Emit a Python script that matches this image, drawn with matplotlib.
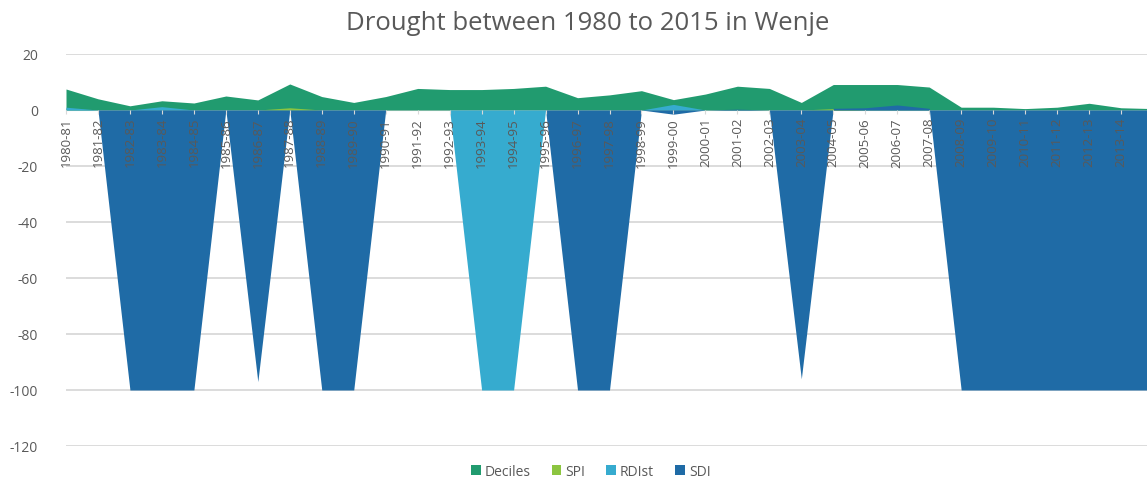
import matplotlib
matplotlib.use("Agg")
import matplotlib.pyplot as plt
import numpy as np

# seasons 1980-81 ... 2014-15
seasons = ["%d-%02d" % (y, (y + 1) % 100) for y in range(1980, 2015)]

deciles = [7.5, 4.0, 1.5, 3.3, 2.5, 5.0, 3.6, 9.3, 4.8, 2.7,
           4.8, 7.7, 7.3, 7.3, 7.7, 8.5, 4.4, 5.4, 6.9, 3.7,
           5.7, 8.5, 7.7, 2.7, 9.1, 9.1, 9.1, 8.2, 1.0, 1.0,
           0.5, 1.0, 2.4, 0.8, 0.5]
spi = [0, 0, 0, 0, 0, 0, 0, 0.8, 0, 0,
       0, 0, 0, 0, 0, 0, 0, 0, 0, 0,
       0, 0, 0, 0, 0.5, 0, 0, 0, 0, 0,
       0, 0, 0, 0, 0]
rdist = [1.0, 0, 0, 1.2, 0, 0, 0, 0, 0, 0,
         0, 0, 0, -100, -100, 0, 0, 0, 0, 2.0,
         0, 0, 0, 0, 0, 0, 0, 0, 0, 0,
         0, 0, 0, 0, 0]
sdi = [0, 0, -100, -100, -100, 0, -97, 0, -100, -100,
       0, 0, 0, 0, 0, 0, -100, -100, 0, -1.5,
       0, 0.3, 0, -96, 0.6, 0.8, 1.8, 0.6, -100, -100,
       -100, -100, -100, -100, -100]

series = [("Deciles", deciles, "#219b6f"),
          ("SPI", spi, "#8cc540"),
          ("RDIst", rdist, "#36abcf"),
          ("SDI", sdi, "#1f6ba6")]

plt.rcParams["font.family"] = ["Open Sans", "DejaVu Sans"]
plt.rcParams["axes.unicode_minus"] = False
text_col = "#595959"

fig = plt.figure(figsize=(11.47, 4.81), dpi=100)
ax = fig.add_axes([66 / 1147, 34 / 481, 1087 / 1147, 392 / 481])

x = np.arange(len(seasons))
yticks = list(range(-120, 21, 20))

# gridlines behind the areas, tick labels on top of them
for v in yticks:
    ax.axhline(v, color="#d9d9d9", linewidth=1.3, zorder=0.5)
for name, vals, col in series:
    ax.fill_between(x, 0, vals, color=col, linewidth=0, label=name, zorder=2)
ax.set_axisbelow(False)

ax.set_xlim(0, len(seasons) - 1)
ax.set_ylim(-120, 20)
ax.set_yticks(yticks)

for s in ["top", "right", "left"]:
    ax.spines[s].set_visible(False)
ax.spines["bottom"].set_position(("data", 0))
ax.spines["bottom"].set_color("#d9d9d9")
ax.spines["bottom"].set_zorder(1)

# last season's label falls outside the picture
ax.set_xticks(x[:-1])
ax.set_xticklabels(seasons[:-1], rotation=90, fontsize=9.5, color=text_col)
ax.tick_params(axis="x", length=3, color="#d9d9d9", pad=2)
ax.tick_params(axis="y", length=0, pad=20, labelsize=10, labelcolor=text_col)

fig.text(0.512, 0.952, "Drought between 1980 to 2015 in Wenje",
         ha="center", va="center", fontsize=18.5, color=text_col)

fig.legend(loc="center", bbox_to_anchor=(0.515, 0.018), ncol=4, frameon=False,
           fontsize=10, labelcolor=text_col, handlelength=0.7, handleheight=0.7,
           handletextpad=0.3, columnspacing=1.5)

plt.savefig("out.png", dpi=100)
